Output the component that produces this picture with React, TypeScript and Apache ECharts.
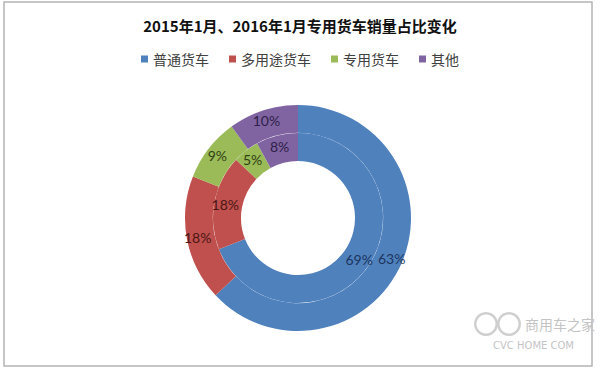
import React, { useEffect, useRef } from "react";
import * as echarts from "echarts";

const categories = ["普通货车", "多用途货车", "专用货车", "其他"];
const inner2015 = [69, 18, 5, 8];
const outer2016 = [63, 18, 9, 10];
const colors = ["#4F81BD", "#C0504D", "#9BBB59", "#8064A2"];
const labelColors = ["#1c3560", "#4a1614", "#2f4012", "#2e1f48"];
const titleText = "2015年1月、2016年1月专用货车销量占比变化";

export default function App() {
  const ref = useRef<HTMLDivElement>(null);
  useEffect(() => {
    document.body.style.margin = "0";
    const chart = echarts.init(ref.current!, null, { renderer: "svg" });
    const mk = (vals: number[]) =>
      vals.map((v, i) => ({
        name: categories[i],
        value: v,
        itemStyle: { color: colors[i] },
        label: { color: labelColors[i] },
      }));
    chart.setOption({
      animation: false,
      backgroundColor: "#ffffff",
      title: {
        text: titleText,
        left: "center",
        top: 13,
        textStyle: {
          fontSize: 15,
          fontWeight: "bold",
          color: "#111",
          fontFamily: "Noto Sans CJK SC",
        },
      },
      legend: {
        top: 47,
        left: "center",
        itemWidth: 7,
        itemHeight: 7,
        itemGap: 20,
        icon: "rect",
        data: categories,
        textStyle: { fontSize: 14, color: "#404040", fontFamily: "Noto Sans CJK SC" },
      },
      color: colors,
      series: [
        {
          type: "pie",
          name: "2015年1月",
          center: [298, 218],
          radius: [57, 85],
          startAngle: 90,
          silent: true,
          label: {
            show: true,
            position: "inside",
            formatter: "{c}%",
            fontSize: 14,
            fontFamily: "Lato",
          },
          labelLine: { show: false },
          itemStyle: { borderWidth: 0 },
          data: mk(inner2015),
        },
        {
          type: "pie",
          name: "2016年1月",
          center: [298, 218],
          radius: [85.2, 113],
          startAngle: 90,
          silent: true,
          label: {
            show: true,
            position: "inside",
            formatter: "{c}%",
            fontSize: 14,
            fontFamily: "Lato",
          },
          labelLine: { show: false },
          itemStyle: { borderWidth: 0 },
          data: mk(outer2016),
        },
      ],
      graphic: [
        {
          type: "rect",
          shape: { x: 4, y: 2, width: 588, height: 364 },
          style: { fill: "none", stroke: "#b4b4b4", lineWidth: 1.5 },
          silent: true,
        },
        {
          type: "ring",
          shape: { cx: 486, cy: 324, r: 12, r0: 9.5 },
          style: { fill: "#cfcfcf" },
          silent: true,
        },
        {
          type: "ring",
          shape: { cx: 509, cy: 324, r: 12, r0: 9.5 },
          style: { fill: "#cfcfcf" },
          silent: true,
        },
        {
          type: "text",
          x: 525,
          y: 324,
          style: {
            text: "商用车之家",
            fill: "#c4c4c4",
            fontSize: 14,
            fontFamily: "Noto Sans CJK SC",
            verticalAlign: "middle",
          },
          silent: true,
        },
        {
          type: "text",
          x: 493,
          y: 345,
          style: {
            text: "CVC HOME COM",
            fill: "#c4c4c4",
            fontSize: 10,
            fontFamily: "DejaVu Sans",
            verticalAlign: "middle",
          },
          silent: true,
        },
      ],
    });
    return () => chart.dispose();
  }, []);
  return (
    <div
      ref={ref}
      style={{ position: "fixed", left: 0, top: 0, width: 600, height: 371 }}
    />
  );
}
